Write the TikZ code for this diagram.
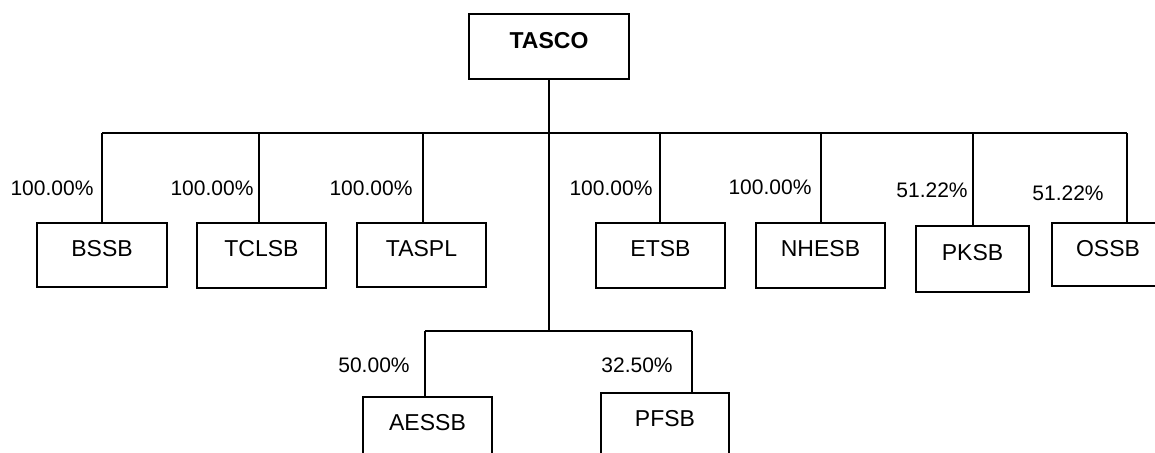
\documentclass[tikz,border=0pt]{standalone}
\usepackage{fontspec}
\setmainfont{Liberation Sans}
\begin{document}
\begin{tikzpicture}[x=1pt,y=-1pt,
  box/.style={draw, line width=1.9pt, inner sep=0pt, minimum height=65pt,
    font=\fontsize{23}{27}\selectfont, text height=16.5pt, text depth=14pt},
  pct/.style={font=\fontsize{21}{25}\selectfont, inner sep=0pt, text height=15pt, text depth=0pt},
  conn/.style={line width=1.5pt}]
\useasboundingbox (0,0) rectangle (1155,452);
\clip (0,0) rectangle (1155,452);
% boxes
\node[box, font=\bfseries\fontsize{23}{27}\selectfont, minimum width=160pt, text depth=13pt] (TASCO) at (549,46.5) {TASCO};
\node[box, minimum width=130pt, minimum height=64pt] (BSSB) at (102,255) {BSSB};
\node[box, minimum width=129pt] (TCLSB) at (261.5,255.5) {TCLSB};
\node[box, minimum width=129pt, minimum height=64pt] (TASPL) at (421.5,255) {TASPL};
\node[box, minimum width=129pt] (ETSB) at (660.5,255.5) {ETSB};
\node[box, minimum width=129pt] (NHESB) at (820.5,255.5) {NHESB};
\node[box, minimum width=113pt, minimum height=66pt] (PKSB) at (972.5,259) {PKSB};
\node[box, minimum width=112pt, minimum height=63pt, text depth=13pt] (OSSB) at (1108,254.5) {OSSB};
\node[box, minimum width=129pt] (AESSB) at (427.5,429.5) {AESSB};
\node[box, minimum width=128pt, text depth=15pt] (PFSB) at (665,425.5) {PFSB};
% connector points
\coordinate (low) at (549,331);
\coordinate (dBSSB) at (102,133);
\coordinate (dTCLSB) at (259,133);
\coordinate (dTASPL) at (423,133);
\coordinate (dETSB) at (660,133);
\coordinate (dNHESB) at (821,133);
\coordinate (dPKSB) at (973,133);
\coordinate (dOSSB) at (1127,133);
\coordinate (dAESSB) at (425,331);
\coordinate (dPFSB) at (692,331);
% connectors
\draw[conn] (TASCO.south) -- (low);
\draw[conn] (dBSSB) -- (dOSSB);
\draw[conn] (dAESSB) -- (dPFSB);
\foreach \n in {BSSB,TCLSB,TASPL,ETSB,NHESB,PKSB,OSSB,AESSB,PFSB}
  \draw[conn] (d\n) -- (d\n |- \n.north);
% percentages
\node[pct] (pBSSB) at (52,188) {100.00\%};
\node[pct] (pTCLSB) at (212,188) {100.00\%};
\node[pct] (pTASPL) at (371,188) {100.00\%};
\node[pct] (pETSB) at (611,188) {100.00\%};
\node[pct] (pNHESB) at (770,187) {100.00\%};
\node[pct] (pPKSB) at (932,190) {51.22\%};
\node[pct] (pOSSB) at (1068,193) {51.22\%};
\node[pct] (pAESSB) at (374,365) {50.00\%};
\node[pct] (pPFSB) at (637,365) {32.50\%};
\end{tikzpicture}
\end{document}
